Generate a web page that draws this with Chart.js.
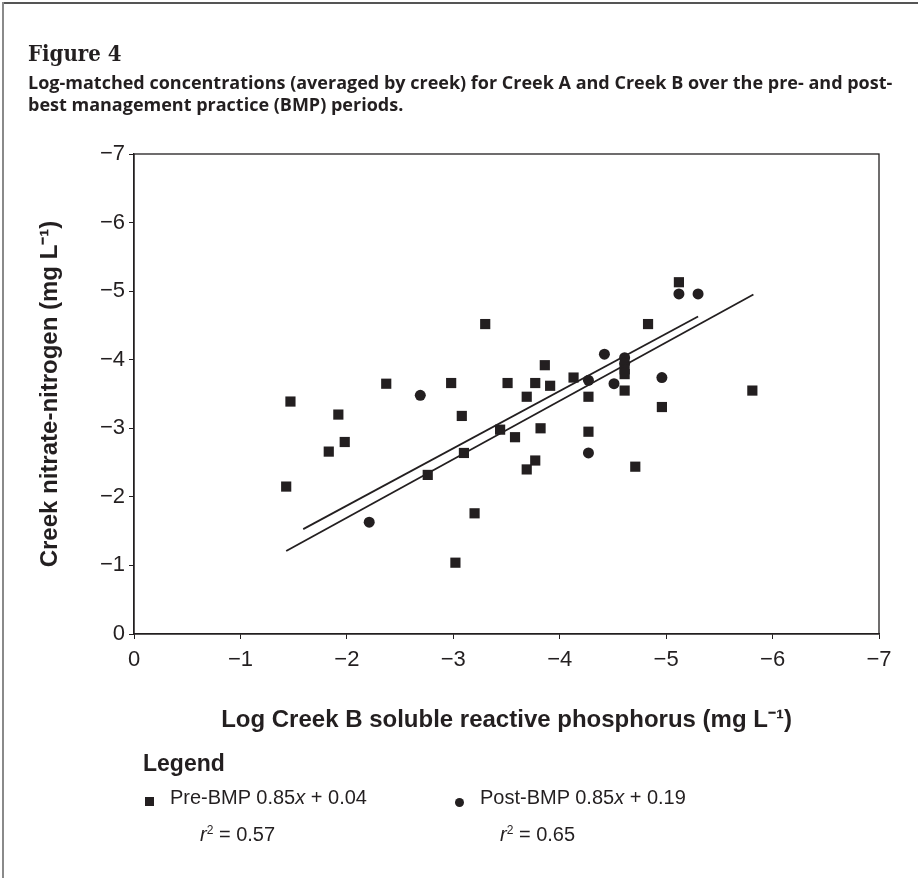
<!DOCTYPE html>
<html><head><meta charset="utf-8">
<script src="https://cdn.jsdelivr.net/npm/chart.js@4.4.0/dist/chart.umd.min.js"></script>
<style>
html,body{margin:0;padding:0;background:#fff;}
#wrap{position:relative;width:918px;height:878px;overflow:hidden;background:#fff;}
#frameTop{position:absolute;left:2px;top:2px;width:916px;height:2px;background:#555;}
#frameLeft{position:absolute;left:2px;top:2px;width:2px;height:876px;background:#8a8a8a;}
canvas{position:absolute;left:0;top:0;}
.t{position:absolute;color:#231f20;white-space:nowrap;}
#fig{left:28px;top:40px;font:bold 22px/26px "DejaVu Serif Condensed","DejaVu Serif",serif;}
#sub{left:28px;top:71px;font:bold 18px/22px "Open Sans",sans-serif;}
#leg{left:143px;top:749px;font:bold 23px/28px "Liberation Sans",Arial,sans-serif;}
.li{font:20px/24px "Liberation Sans",Arial,sans-serif;}
.mk{position:absolute;background:#231f20;}
</style></head>
<body><div id="wrap">
<div id="frameTop"></div><div id="frameLeft"></div>
<canvas id="c" width="918" height="878"></canvas>
<div class="t" id="fig">Figure 4</div>
<div class="t" id="sub">Log-matched concentrations (averaged by creek) for Creek A and Creek B over the pre- and post-<br>best management practice (BMP) periods.</div>
<div class="t" id="leg">Legend</div>
<div class="mk" style="left:145px;top:797px;width:9px;height:9px;"></div>
<div class="mk" style="left:455px;top:798px;width:9px;height:9px;border-radius:50%;"></div>
<div class="t li" id="l1" style="left:170px;top:785px;"></div>
<div class="t li" id="l2" style="left:200px;top:818px;"></div>
<div class="t li" id="l3" style="left:480px;top:785px;"></div>
<div class="t li" id="l4" style="left:500px;top:818px;"></div>
</div>
<script>
// ---- data ----
const preBMP_x = [-1.43,-1.47,-1.83,-1.92,-1.98,-2.37,-2.76,-2.98,-3.02,-3.08,-3.10,-3.20,-3.30,-3.44,-3.51,-3.58,-3.69,-3.69,-3.77,-3.77,-3.82,-3.86,-3.91,-4.13,-4.27,-4.27,-4.61,-4.61,-4.61,-4.71,-4.83,-4.96,-5.12,-5.81];
const preBMP_y = [-2.15,-3.39,-2.66,-3.20,-2.80,-3.65,-2.32,-3.66,-1.04,-3.18,-2.64,-1.76,-4.52,-2.98,-3.66,-2.87,-3.46,-2.40,-3.66,-2.53,-3.00,-3.92,-3.62,-3.74,-3.46,-2.95,-3.86,-3.79,-3.55,-2.44,-4.52,-3.31,-5.13,-3.55];
const postBMP_x = [-2.21,-2.69,-4.27,-4.27,-4.42,-4.51,-4.61,-4.61,-4.96,-5.12,-5.30];
const postBMP_y = [-1.63,-3.48,-3.70,-2.64,-4.08,-3.65,-4.03,-3.95,-3.74,-4.96,-4.96];
const preFit_x = [-1.43,-5.82];
const preFit_y = [-1.21,-4.95];
const postFit_x = [-1.59,-5.30];
const postFit_y = [-1.53,-4.63];
const tickLabels = ['0','\u22121','\u22122','\u22123','\u22124','\u22125','\u22126','\u22127'];
const xTitle = 'Log Creek B soluble reactive phosphorus (mg L\u207B\u00B9)';
const yTitle = 'Creek nitrate-nitrogen (mg L\u207B\u00B9)';
const legendLines = ['Pre-BMP 0.85<i>x</i> + 0.04','<i>r</i><sup style="font-size:12px;vertical-align:7px">2</sup> = 0.57','Post-BMP 0.85<i>x</i> + 0.19','<i>r</i><sup style="font-size:12px;vertical-align:7px">2</sup> = 0.65'];

['l1','l2','l3','l4'].forEach((id,i)=>{document.getElementById(id).innerHTML = legendLines[i];});

const ink = '#231f20';
const pts = (xs, ys) => xs.map((x,i)=>({x:x, y:ys[i]}));
const framePlugin = {id:'frame', afterDraw(chart){const {ctx, chartArea:a} = chart; ctx.save(); ctx.strokeStyle = ink; ctx.lineWidth = 1.3; ctx.strokeRect(a.left, a.top, a.right-a.left, a.bottom-a.top); ctx.restore();}};
const tickFont = {family:'Liberation Sans', size:22};
const titleFont = {family:'Liberation Sans', size:24, weight:'bold'};

new Chart(document.getElementById('c'), {
  type:'scatter',
  data:{datasets:[
    {label:'Pre-BMP fit', type:'line', data:pts(preFit_x, preFit_y), borderColor:ink, borderWidth:1.8, pointRadius:0, fill:false},
    {label:'Post-BMP fit', type:'line', data:pts(postFit_x, postFit_y), borderColor:ink, borderWidth:1.8, pointRadius:0, fill:false},
    {label:'Pre-BMP', data:pts(preBMP_x, preBMP_y), pointStyle:'rect', pointRadius:7.2, backgroundColor:ink, borderWidth:0, pointHoverRadius:7.2},
    {label:'Post-BMP', data:pts(postBMP_x, postBMP_y), pointStyle:'circle', pointRadius:5.5, backgroundColor:ink, borderWidth:0, pointHoverRadius:5.5}
  ]},
  options:{
    responsive:false, animation:false, devicePixelRatio:1,
    layout:{padding:{left:0, top:154, right:39, bottom:0}},
    plugins:{legend:{display:false}, tooltip:{enabled:false}},
    scales:{
      x:{type:'linear', min:-7, max:0, reverse:true, position:'bottom',
        afterFit:(s)=>{s.height = 244;},
        ticks:{stepSize:1, callback:(v)=>tickLabels[Math.round(-v)], font:tickFont, color:ink, padding:8, maxRotation:0},
        grid:{drawOnChartArea:false, drawTicks:true, tickLength:5, color:ink},
        border:{display:true, color:ink, width:1.3},
        title:{display:true, text:xTitle, font:titleFont, color:ink, padding:{top:0, bottom:143}}
      },
      y:{type:'linear', min:-7, max:0, reverse:true, position:'left',
        afterFit:(s)=>{s.width = 134;},
        ticks:{stepSize:1, callback:(v)=>tickLabels[Math.round(-v)], font:tickFont, color:ink, padding:4},
        grid:{drawOnChartArea:false, drawTicks:true, tickLength:5, color:ink},
        border:{display:true, color:ink, width:1.3},
        title:{display:true, text:yTitle, font:titleFont, color:ink, padding:{top:36, bottom:0}}
      }
    }
  },
  plugins:[framePlugin]
});
</script>
</body></html>
